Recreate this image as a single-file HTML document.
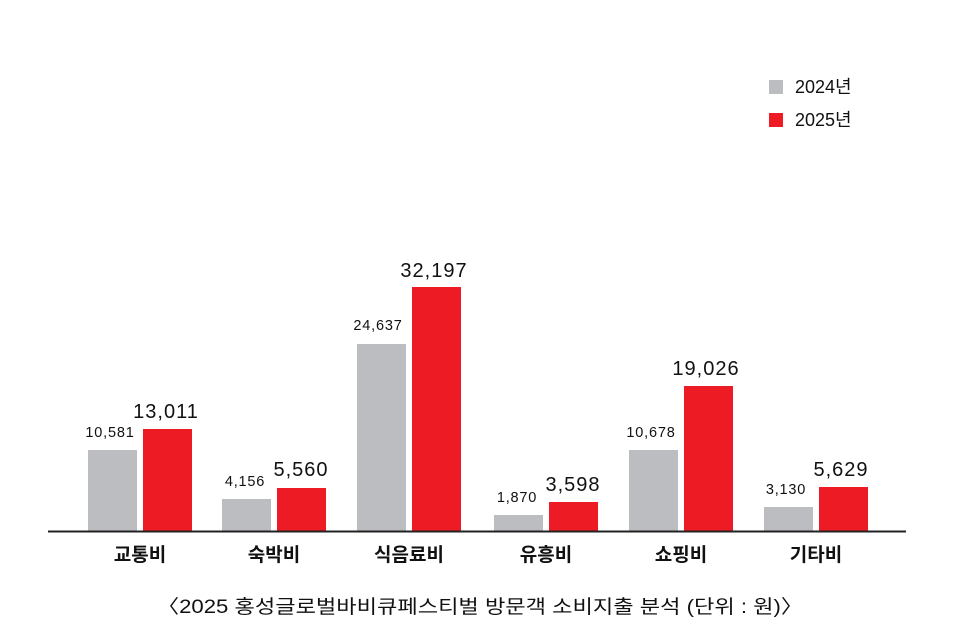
<!DOCTYPE html>
<html><head><meta charset="utf-8"><style>
html,body{margin:0;padding:0;background:#fff;}
svg{display:block;}
text{font-family:"Liberation Sans","Noto Sans CJK KR",sans-serif;fill:#111;}
</style></head><body>
<svg width="960" height="640" viewBox="0 0 960 640">
<rect x="769" y="80" width="14" height="14" fill="#bcbdc0"/>
<text x="795" y="93" font-size="18">2024년</text>
<rect x="769" y="113" width="14" height="14" fill="#ed1c24"/>
<text x="795" y="126" font-size="18">2025년</text>

<g>
<rect x="88" y="450" width="49" height="81" fill="#bcbdc0"/>
<rect x="143" y="429" width="49" height="102" fill="#ed1c24"/>
<rect x="222" y="499" width="49" height="32" fill="#bcbdc0"/>
<rect x="277" y="488" width="49" height="43" fill="#ed1c24"/>
<rect x="357" y="344" width="49" height="187" fill="#bcbdc0"/>
<rect x="412" y="287" width="49" height="244" fill="#ed1c24"/>
<rect x="494" y="515" width="49" height="16" fill="#bcbdc0"/>
<rect x="549" y="502" width="49" height="29" fill="#ed1c24"/>
<rect x="629" y="450" width="49" height="81" fill="#bcbdc0"/>
<rect x="684" y="386" width="49" height="145" fill="#ed1c24"/>
<rect x="764" y="507" width="49" height="24" fill="#bcbdc0"/>
<rect x="819" y="487" width="49" height="44" fill="#ed1c24"/>
</g>
<line x1="48" y1="531.5" x2="906" y2="531.5" stroke="#222" stroke-width="2"/>

<g font-size="14.5" text-anchor="middle" letter-spacing="0.8">
<text x="110" y="437">10,581</text>
<text x="245" y="486">4,156</text>
<text x="378" y="330">24,637</text>
<text x="517" y="502">1,870</text>
<text x="651" y="437">10,678</text>
<text x="786" y="494">3,130</text>
</g>
<g font-size="20" text-anchor="middle" letter-spacing="1">
<text x="166" y="418">13,011</text>
<text x="301" y="476">5,560</text>
<text x="434" y="277">32,197</text>
<text x="573" y="491">3,598</text>
<text x="706" y="375">19,026</text>
<text x="841" y="476">5,629</text>
</g>
<g font-size="19" font-weight="bold" text-anchor="middle">
<text x="140" y="561">교통비</text>
<text x="274" y="561">숙박비</text>
<text x="409" y="561">식음료비</text>
<text x="546" y="561">유흥비</text>
<text x="681" y="561">쇼핑비</text>
<text x="816" y="561">기타비</text>
</g>
<text x="157" y="613" font-size="19" textLength="646" lengthAdjust="spacingAndGlyphs">〈2025 홍성글로벌바비큐페스티벌 방문객 소비지출 분석 (단위 : 원)〉</text>
</svg>
</body></html>
